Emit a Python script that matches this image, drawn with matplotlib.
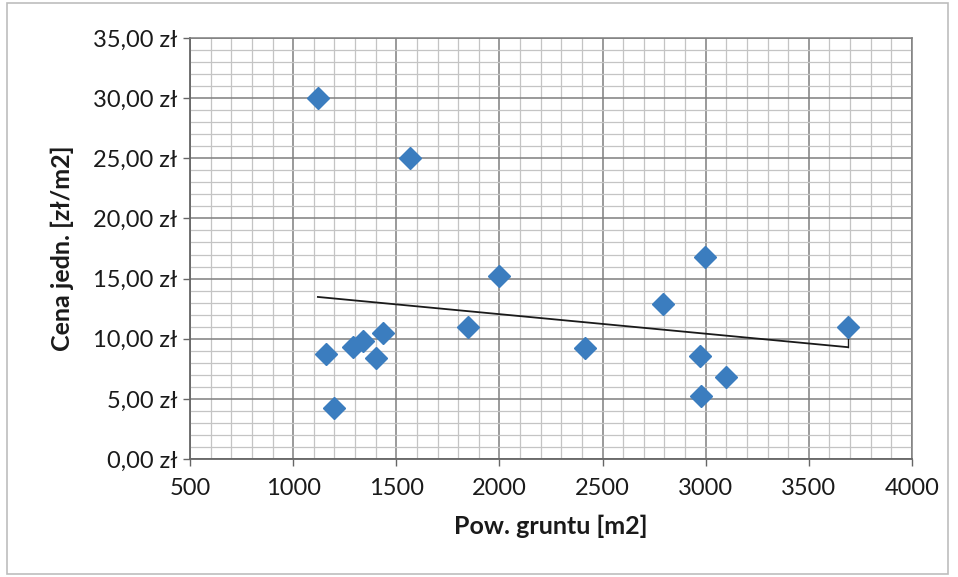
import numpy as np
import matplotlib
matplotlib.use("Agg")
import matplotlib.pyplot as plt
from matplotlib.ticker import MultipleLocator, FuncFormatter
from matplotlib.patches import Rectangle

# Data
area_m2 = [1120, 1160, 1200, 1290, 1340, 1400, 1435, 1565, 1850, 2000,
           2415, 2795, 2970, 2975, 2995, 3100, 3690]
price_per_m2 = [30.0, 8.7, 4.2, 9.3, 9.8, 8.4, 10.5, 25.0, 11.0, 15.2,
                9.2, 12.9, 8.6, 5.2, 16.8, 6.8, 11.0]

x_ticks = [500, 1000, 1500, 2000, 2500, 3000, 3500, 4000]
y_ticks = [0, 5, 10, 15, 20, 25, 30, 35]

x_label = "Pow. gruntu [m2]"
y_label = "Cena jedn. [zł/m2]"

plt.rcParams['font.family'] = ['Lato', 'DejaVu Sans']

fig = plt.figure(figsize=(9.58, 5.77), dpi=100)
ax = fig.add_axes([190/958, 1-459/577, (912-190)/958, (459-38)/577])

x = np.array(area_m2, dtype=float)
y = np.array(price_per_m2, dtype=float)

# Grid
ax.set_xlim(x_ticks[0], x_ticks[-1])
ax.set_ylim(y_ticks[0], y_ticks[-1])
ax.set_xticks(x_ticks)
ax.set_yticks(y_ticks)
ax.xaxis.set_minor_locator(MultipleLocator(100))
ax.yaxis.set_minor_locator(MultipleLocator(1))
ax.grid(which='major', color='#7f7f7f', linewidth=1.1, zorder=0)
ax.grid(which='minor', color='#c4c4c4', linewidth=0.9, zorder=0)
ax.set_axisbelow(True)

for side in ['top', 'right']:
    ax.spines[side].set_color('#7f7f7f')
    ax.spines[side].set_linewidth(1.1)
for side in ['left', 'bottom']:
    ax.spines[side].set_color('#666666')
    ax.spines[side].set_linewidth(1.3)

ax.tick_params(which='major', direction='out', length=5, width=1.0,
               color='#666666', labelsize=17, pad=4, labelcolor='#1a1a1a')
ax.tick_params(which='minor', length=0)
ax.tick_params(axis='x', pad=9)

ax.yaxis.set_major_formatter(FuncFormatter(lambda v, p: f"{v:.2f}".replace('.', ',') + " zł"))
ax.xaxis.set_major_formatter(FuncFormatter(lambda v, p: f"{int(v)}"))

# Trend line (linear fit)
coef = np.polyfit(x, y, 1)
xt = np.array([x.min(), x.max()])
yt = np.polyval(coef, xt)
ax.plot(xt, yt, color='#1a1a1a', linewidth=1.3, zorder=3)
# small connector at the last point
i_max = int(np.argmax(x))
ax.plot([x[i_max], x[i_max]], [yt[-1], y[i_max]], color='#1a1a1a', linewidth=1.0, zorder=3)

# Scatter
ax.plot(x, y, linestyle='none', marker='D', markersize=11,
        markerfacecolor='#3b7dbf', markeredgecolor='#3b7dbf', zorder=4)

ax.set_xlabel(x_label, fontsize=18, fontweight='bold', labelpad=11, color='#1a1a1a')
ax.set_ylabel(y_label, fontsize=18, fontweight='bold', labelpad=14, color='#1a1a1a')

# Outer chart border
fig.patches.append(Rectangle((7/958, 3/577), (948-7)/958, (574-3)/577,
                             transform=fig.transFigure, fill=False,
                             edgecolor='#bdbdbd', linewidth=1.2))

fig.savefig("out.png", dpi=100)
